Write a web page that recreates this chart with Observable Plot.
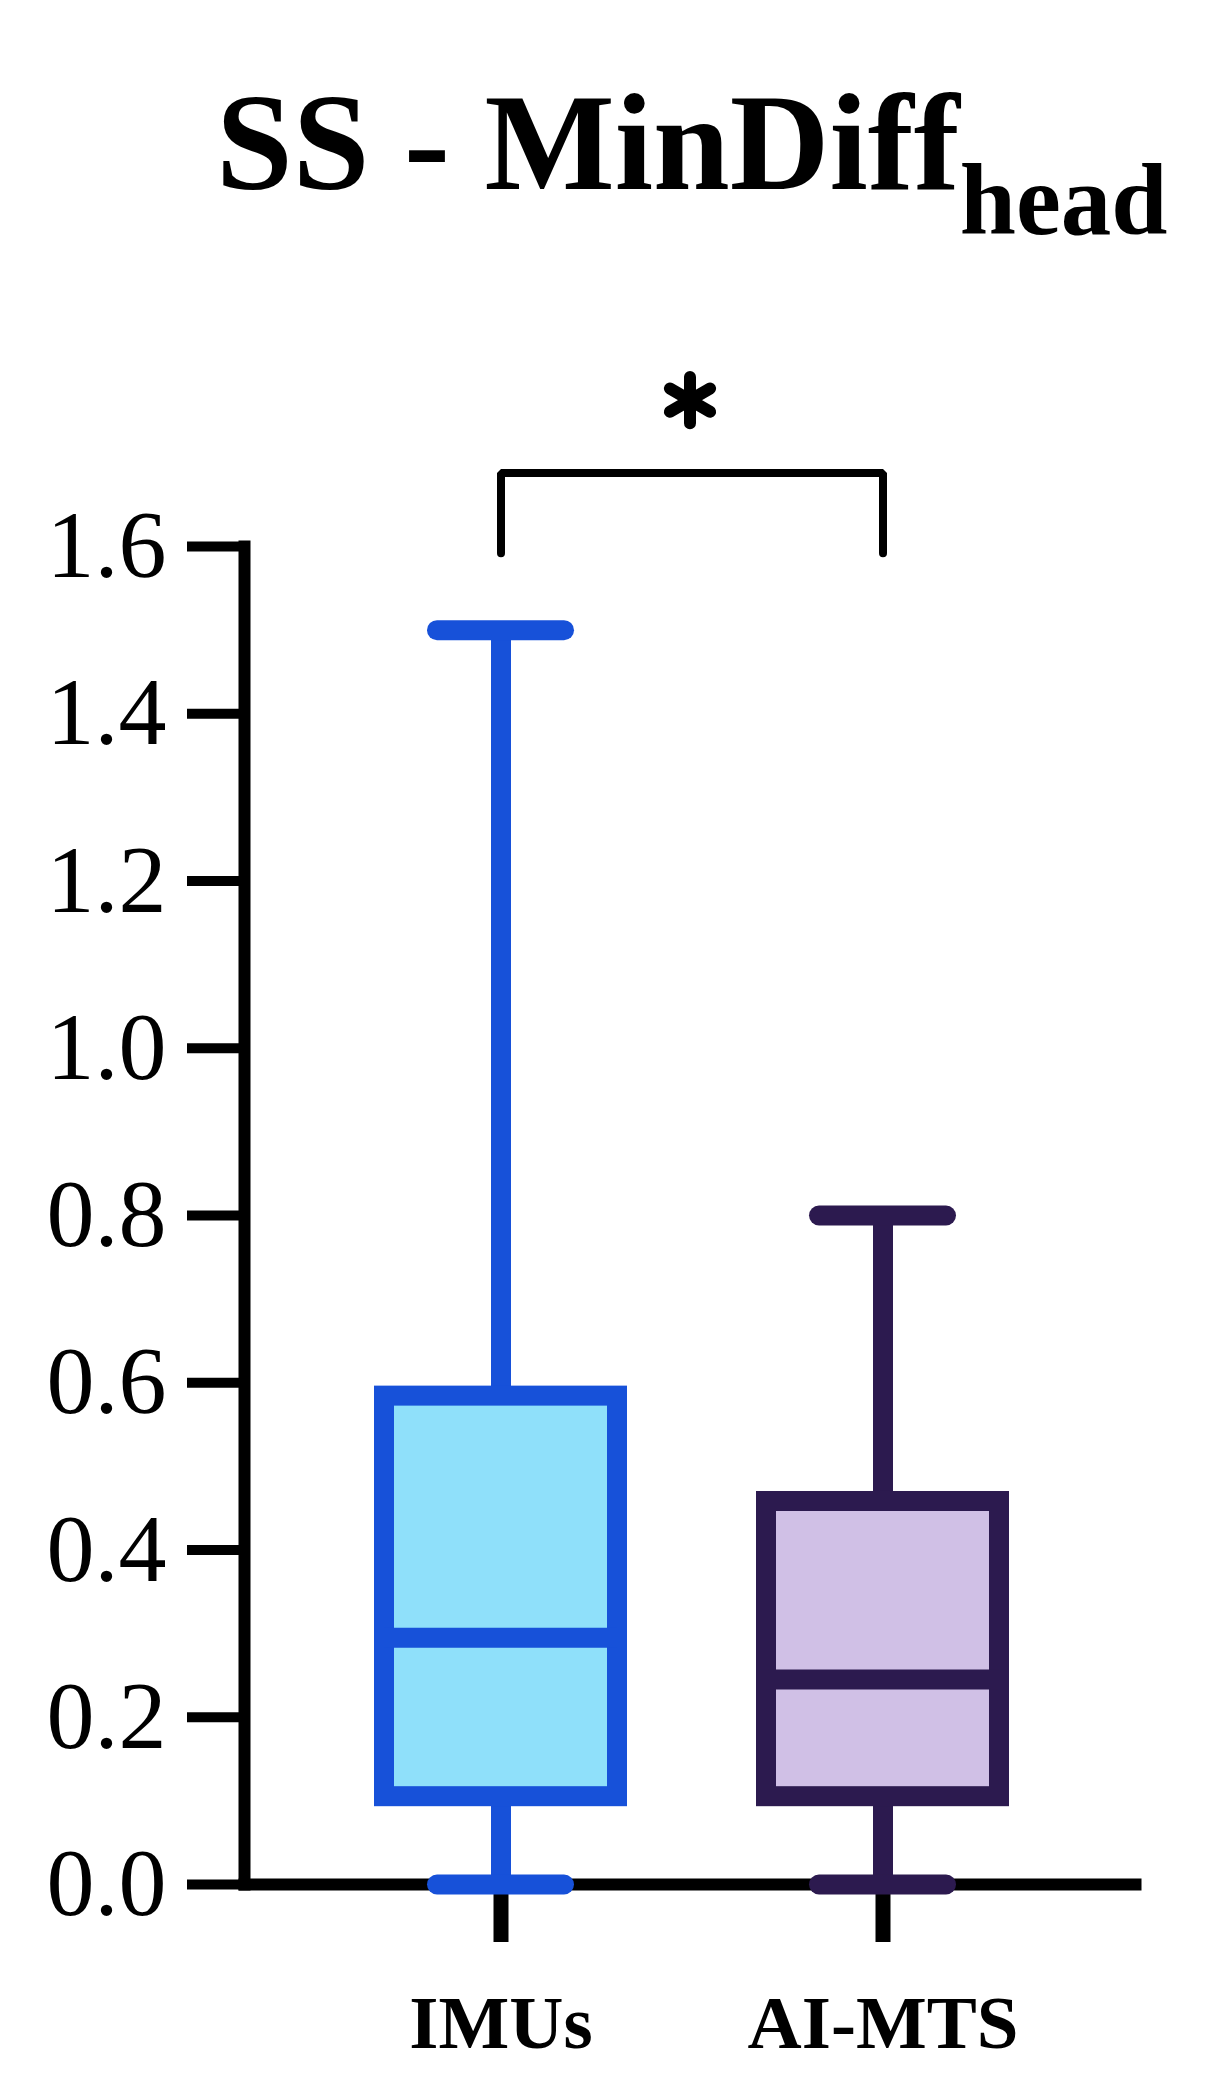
<!DOCTYPE html>
<html>
<head>
<meta charset="utf-8">
<script src="https://cdn.jsdelivr.net/npm/d3@7"></script>
<script src="https://cdn.jsdelivr.net/npm/@observablehq/plot@0.6"></script>
<style>
html, body { margin: 0; padding: 0; background: #fff; }
#page { position: relative; width: 1214px; height: 2090px; overflow: hidden; background: #fff; }
#title { position: absolute; left: 216px; top: 74px; font-family: "Liberation Serif", serif; font-weight: bold; font-size: 138px; line-height: 1; white-space: nowrap; color: #000; }
#title .sub { font-size: 101px; vertical-align: -45px; line-height: 1; }
#chart { position: absolute; left: 0; top: 280px; }
</style>
</head>
<body>
<div id="page">
  <div id="title">SS - MinDiff<span class="sub">head</span></div>
  <div id="chart"></div>
</div>
<script>
// Categories and box-plot statistics
const groups = ["IMUs", "AI-MTS"];
const mins = [0, 0];
const q1s = [0.105, 0.105];
const medians = [0.295, 0.245];
const q3s = [0.584, 0.458];
const maxs = [1.5, 0.8];
const strokeColors = ["#1751D9", "#2C1A4F"];
const fillColors = ["#8FE0FA", "#D0C0E6"];
const yTicks = [0, 0.2, 0.4, 0.6, 0.8, 1.0, 1.2, 1.4, 1.6];

// Significance annotation
const sigPair = ["IMUs", "AI-MTS"];
const sigLabel = "*";
const bracketLow = 1.592;
const bracketHigh = 1.688;
const starLevel = 1.775;

const boxes = groups.map((g, i) => ({
  group: g, min: mins[i], q1: q1s[i], median: medians[i], q3: q3s[i], max: maxs[i],
  stroke: strokeColors[i], fill: fillColors[i]
}));
const bracket = [
  {group: sigPair[0], y: bracketLow},
  {group: sigPair[0], y: bracketHigh},
  {group: sigPair[1], y: bracketHigh},
  {group: sigPair[1], y: bracketLow}
];

const chart = Plot.plot({
  width: 1214,
  height: 1810,
  marginTop: 266,
  marginBottom: 206,
  marginLeft: 244,
  marginRight: 79,
  style: {background: "transparent", color: "#000", fontFamily: "Liberation Serif"},
  x: {type: "band", domain: groups, paddingInner: 0.389, paddingOuter: 0.3577, align: 0.507, axis: null},
  y: {domain: [0, 1.6], axis: null},
  color: {type: "identity"},
  marks: [
    Plot.axisY({ticks: yTicks, tickSize: 57, tickPadding: 21, strokeWidth: 10, fontSize: 96,
      fontFamily: "Liberation Serif", tickFormat: d => d.toFixed(1), label: null}),
    Plot.axisX({tickSize: 58, tickPadding: 52, strokeWidth: 15, fontSize: 75, fontWeight: "bold",
      fontFamily: "Liberation Serif", label: null}),
    Plot.frame({anchor: "left", strokeWidth: 12}),
    Plot.frame({anchor: "bottom", strokeWidth: 12}),
    Plot.ruleX(boxes, {x: "group", y1: "q3", y2: "max", stroke: "stroke", strokeWidth: 20}),
    Plot.ruleX(boxes, {x: "group", y1: "min", y2: "q1", stroke: "stroke", strokeWidth: 20}),
    Plot.tickY(boxes, {x: "group", y: "max", stroke: "stroke", strokeWidth: 20, strokeLinecap: "round", inset: 53}),
    Plot.tickY(boxes, {x: "group", y: "min", stroke: "stroke", strokeWidth: 20, strokeLinecap: "round", inset: 53}),
    Plot.barY(boxes, {x: "group", y1: "q1", y2: "q3", fill: "fill", stroke: "stroke", strokeWidth: 20}),
    Plot.tickY(boxes, {x: "group", y: "median", stroke: "stroke", strokeWidth: 20}),
    Plot.line(bracket, {x: "group", y: "y", stroke: "#000", strokeWidth: 8, strokeLinejoin: "miter"}),
    Plot.dot([sigLabel], {y: () => starLevel, symbol: "asterisk", r: 22, stroke: "#000", strokeWidth: 12, strokeLinecap: "round"})
  ]
});
document.getElementById("chart").appendChild(chart);
</script>
</body>
</html>
